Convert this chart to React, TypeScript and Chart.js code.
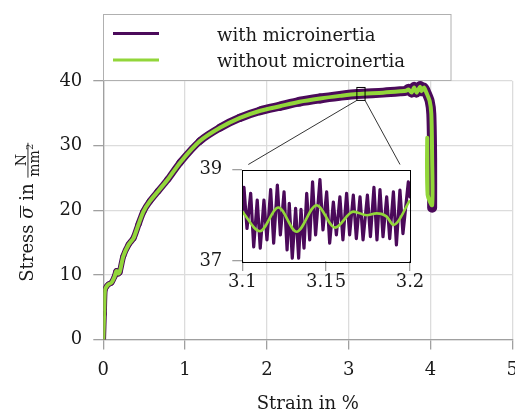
import React, { useEffect, useRef } from "react";
import { Chart, registerables } from "chart.js";

Chart.register(...registerables);

const FONT = "'DejaVu Serif', serif";
const PURPLE = "#4b0a5a";
const GREEN = "#92d63a";
const TEXT = "#1a1a1a";
const GRID = "#dcdcdc";
const AXIS = "#a0a0a0";

// ---- main chart data ----
const xTicks = [0, 1, 2, 3, 4, 5];
const yTicks = [0, 10, 20, 30, 40];

const withStrain = [0, 0.01, 0.02, 0.04, 0.06, 0.10, 0.14, 0.16, 0.18, 0.20, 0.245, 0.31, 0.37, 0.43, 0.49, 0.57, 0.67, 0.79, 0.94, 1.18, 1.43, 1.67, 1.92, 2.16, 2.40, 2.65, 2.89, 3.10, 3.42, 3.63, 3.70, 3.73, 3.77, 3.80, 3.83, 3.87, 3.89, 3.92, 3.95, 3.99, 4.01, 4.02, 4.02];
const withStress = [0, 4, 7.7, 8.2, 8.5, 8.8, 9.8, 10.6, 10.2, 10.4, 12.9, 14.7, 15.7, 17.8, 19.8, 21.4, 22.95, 24.8, 27.4, 30.7, 32.8, 34.3, 35.4, 36.1, 36.8, 37.3, 37.7, 38.0, 38.2, 38.4, 38.5, 38.8, 38.2, 39.1, 38.2, 39.2, 38.4, 39.0, 38.2, 36.9, 34.9, 28.0, 20.4];

const withoutStrain = [0, 0.01, 0.02, 0.04, 0.06, 0.10, 0.14, 0.16, 0.18, 0.20, 0.245, 0.31, 0.37, 0.43, 0.49, 0.57, 0.67, 0.79, 0.94, 1.18, 1.43, 1.67, 1.92, 2.16, 2.40, 2.65, 2.89, 3.10, 3.42, 3.63, 3.70, 3.73, 3.77, 3.80, 3.83, 3.87, 3.89, 3.92, 3.95, 3.99, 4.01, 4.02, 4.02, 3.965, 3.96, 3.965];
const withoutStress = [0, 4, 7.7, 8.2, 8.5, 8.8, 9.8, 10.6, 10.2, 10.4, 12.9, 14.7, 15.7, 17.8, 19.8, 21.4, 22.95, 24.8, 27.4, 30.7, 32.8, 34.3, 35.4, 36.1, 36.8, 37.3, 37.7, 38.0, 38.2, 38.4, 38.5, 38.7, 38.2, 39.0, 38.2, 39.1, 38.4, 39.0, 38.2, 36.9, 34.9, 28.0, 20.8, 22.4, 31.2, 22.6];

// ---- inset data ----
const insetXTicks = [3.1, 3.15, 3.2];
const insetYTicks = [37, 39];
const zoomStrain = [3.1, 3.2];
const zoomStress = [37, 39];

const insetWithStrain = [3.1, 3.101, 3.1028, 3.105, 3.1068, 3.1089, 3.1107, 3.1129, 3.1147, 3.1169, 3.1187, 3.1209, 3.1227, 3.1249, 3.1267, 3.128, 3.1298, 3.1318, 3.1336, 3.135, 3.1368, 3.1384, 3.1402, 3.1419, 3.1437, 3.1463, 3.1481, 3.1503, 3.1521, 3.1543, 3.1561, 3.1582, 3.16, 3.1622, 3.164, 3.1662, 3.168, 3.1702, 3.172, 3.1746, 3.1764, 3.1785, 3.1803, 3.1821, 3.1839, 3.1861, 3.1879, 3.1901, 3.1919, 3.194, 3.1958, 3.199, 3.2];
const insetWithStress = [38.1, 38.61, 37.71, 38.48, 37.31, 38.33, 37.28, 38.33, 37.46, 38.56, 37.39, 38.66, 37.57, 38.51, 37.24, 38.26, 37.06, 38.15, 37.06, 38.13, 37.28, 38.48, 37.46, 38.73, 37.57, 38.78, 37.68, 38.51, 37.39, 38.29, 37.57, 38.4, 37.46, 38.48, 37.57, 38.44, 37.49, 38.4, 37.46, 38.44, 37.53, 38.61, 37.46, 38.56, 37.53, 38.4, 37.49, 38.51, 37.35, 38.55, 37.6, 38.73, 38.4];

const insetWithoutStrain = [3.1, 3.1105, 3.1215, 3.1324, 3.1443, 3.1553, 3.1662, 3.1742, 3.1801, 3.1861, 3.1901, 3.2];
const insetWithoutStress = [38.08, 37.65, 38.17, 37.64, 38.22, 37.73, 38.08, 38.0, 38.04, 37.97, 37.79, 38.33];

const legendLabels = ["with microinertia", "without microinertia"];
const xTitle = "Strain in %";

// ---- layout ----
const W = 515;
const H = 412;
const INSET_LEFT = 180;
const INSET_TOP = 150;
const INSET_W = 260;
const INSET_H = 150;

const pts = (xs: number[], ys: number[]) => xs.map((x, i) => ({ x, y: ys[i] }));

function drawYTitle(ctx: CanvasRenderingContext2D, cx: number, cy: number) {
  ctx.save();
  ctx.translate(cx, cy);
  ctx.rotate(-Math.PI / 2);
  ctx.fillStyle = TEXT;
  ctx.textAlign = "left";
  ctx.textBaseline = "alphabetic";
  const big = `18px ${FONT}`;
  const small = `14px ${FONT}`;
  const tiny = `10px ${FONT}`;
  ctx.font = big;
  const p1 = "Stress ";
  const p2 = " in ";
  const w1 = ctx.measureText(p1).width;
  const w2 = ctx.measureText(p2).width;
  ctx.font = `italic 18px ${FONT}`;
  const ws = ctx.measureText("σ").width;
  ctx.font = small;
  const wN = ctx.measureText("N").width;
  const wmm = ctx.measureText("mm").width;
  ctx.font = tiny;
  const wsup = ctx.measureText("2").width;
  const wden = wmm + wsup;
  const wfrac = Math.max(wN, wden) + 2;
  const total = w1 + ws + w2 + wfrac;
  let x = -total / 2;
  ctx.font = big;
  ctx.fillText(p1, x, 0);
  x += w1;
  ctx.font = `italic 18px ${FONT}`;
  ctx.fillText("σ", x, 0);
  ctx.fillRect(x + 1, -13, ws, 1);
  x += ws;
  ctx.font = big;
  ctx.fillText(p2, x, 0);
  x += w2;
  ctx.font = small;
  ctx.fillText("N", x + (wfrac - wN) / 2, -7.5);
  ctx.fillRect(x, -5.5, wfrac, 0.9);
  ctx.fillText("mm", x + (wfrac - wden) / 2, 6);
  ctx.font = tiny;
  ctx.fillText("2", x + (wfrac - wden) / 2 + wmm, 0);
  ctx.restore();
}

const mainDecor = {
  id: "mainDecor",
  afterDraw(chart: any) {
    const ctx: CanvasRenderingContext2D = chart.ctx;
    const xs = chart.scales.x;
    const ys = chart.scales.y;
    const ca = chart.chartArea;
    ctx.save();
    // zoom box
    const bx0 = xs.getPixelForValue(zoomStrain[0]);
    const bx1 = xs.getPixelForValue(zoomStrain[1]);
    const by0 = ys.getPixelForValue(zoomStress[1]);
    const by1 = ys.getPixelForValue(zoomStress[0]);
    ctx.strokeStyle = "#000";
    ctx.lineWidth = 1;
    ctx.strokeRect(bx0, by0, bx1 - bx0, by1 - by0);
    // connectors to inset
    const insetL = 242.3;
    const insetR = 410;
    const insetT = 169.5;
    ctx.lineWidth = 0.8;
    ctx.beginPath();
    ctx.moveTo(bx0, by1);
    ctx.lineTo(insetL + 6, insetT - 5);
    ctx.moveTo(bx1, by1);
    ctx.lineTo(insetR - 10, insetT - 5);
    ctx.stroke();

    // legend
    ctx.fillStyle = "#fff";
    ctx.fillRect(103.5, 14.5, 347.5, 66);
    ctx.strokeStyle = "#b0b0b0";
    ctx.lineWidth = 1;
    ctx.strokeRect(103.5, 14.5, 347.5, 66);
    ctx.lineWidth = 3;
    ctx.lineCap = "butt";
    ctx.strokeStyle = PURPLE;
    ctx.beginPath();
    ctx.moveTo(113, 33.5);
    ctx.lineTo(159, 33.5);
    ctx.stroke();
    ctx.strokeStyle = GREEN;
    ctx.beginPath();
    ctx.moveTo(113, 60);
    ctx.lineTo(159, 60);
    ctx.stroke();
    ctx.fillStyle = TEXT;
    ctx.font = `18px ${FONT}`;
    ctx.textAlign = "left";
    ctx.textBaseline = "alphabetic";
    ctx.fillText(legendLabels[0], 217, 40.5);
    ctx.fillText(legendLabels[1], 217, 66.5);

    // x title
    ctx.textAlign = "center";
    ctx.fillText(xTitle, (ca.left + ca.right) / 2, 409);
    ctx.restore();

    drawYTitle(ctx, 33, (ca.top + ca.bottom) / 2 + 2);
  },
};

const insetDecor = {
  id: "insetDecor",
  afterDraw(chart: any) {
    const ctx: CanvasRenderingContext2D = chart.ctx;
    const ca = chart.chartArea;
    ctx.save();
    ctx.strokeStyle = "#000";
    ctx.lineWidth = 1;
    ctx.strokeRect(Math.round(ca.left) + 0.5, Math.round(ca.top) + 0.5, Math.round(ca.right - ca.left), Math.round(ca.bottom - ca.top));
    ctx.restore();
  },
};

export default function App() {
  const mainRef = useRef<HTMLCanvasElement>(null);
  const insetRef = useRef<HTMLCanvasElement>(null);

  useEffect(() => {
    const tickFont = { family: FONT, size: 18 };
    const main = new Chart(mainRef.current as HTMLCanvasElement, {
      type: "line",
      data: {
        datasets: [
          {
            label: legendLabels[0],
            data: pts(withStrain, withStress),
            borderColor: PURPLE,
            borderWidth: 9,
            pointRadius: 0,
            tension: 0.25,
            order: 2,
            borderCapStyle: "round",
            borderJoinStyle: "round",
            segment: {
              borderWidth: (c: any) => Math.min(10, 5.5 + c.p0.parsed.x * 1.8),
            },
          } as any,
          {
            label: legendLabels[1],
            data: pts(withoutStrain, withoutStress),
            borderColor: GREEN,
            borderWidth: 4,
            pointRadius: 0,
            tension: 0.25,
            order: 1,
            borderCapStyle: "round",
            borderJoinStyle: "round",
          } as any,
        ],
      },
      options: {
        responsive: false,
        animation: false,
        events: [],
        layout: { padding: { left: 0, right: 2.7, top: 81, bottom: 0 } },
        plugins: { legend: { display: false }, tooltip: { enabled: false } },
        scales: {
          x: {
            type: "linear",
            min: 0,
            max: 5,
            afterBuildTicks: (s: any) => {
              s.ticks = xTicks.map((v) => ({ value: v }));
            },
            afterFit: (s: any) => {
              s.height = 72.5;
              s.paddingLeft = 0;
              s.paddingRight = 0;
            },
            ticks: { font: tickFont, color: TEXT, padding: 10, maxRotation: 0 },
            grid: { color: GRID, lineWidth: 1.3, tickColor: AXIS, tickLength: 10 },
            border: { color: AXIS, width: 1.3 },
          },
          y: {
            type: "linear",
            min: 0,
            max: 40,
            afterBuildTicks: (s: any) => {
              s.ticks = yTicks.map((v) => ({ value: v }));
            },
            afterFit: (s: any) => {
              s.width = 103.3;
              s.paddingTop = 0;
              s.paddingBottom = 0;
            },
            ticks: { font: tickFont, color: TEXT, padding: 11 },
            grid: { color: GRID, lineWidth: 1.3, tickColor: AXIS, tickLength: 10 },
            border: { color: AXIS, width: 1.3 },
          },
        },
      } as any,
      plugins: [mainDecor],
    });

    const inset = new Chart(insetRef.current as HTMLCanvasElement, {
      type: "line",
      data: {
        datasets: [
          {
            label: legendLabels[0],
            data: pts(insetWithStrain, insetWithStress),
            borderColor: PURPLE,
            borderWidth: 3.2,
            pointRadius: 0,
            tension: 0,
            order: 2,
            borderCapStyle: "round",
            borderJoinStyle: "round",
          } as any,
          {
            label: legendLabels[1],
            data: pts(insetWithoutStrain, insetWithoutStress),
            borderColor: GREEN,
            borderWidth: 2.6,
            pointRadius: 0,
            order: 1,
            cubicInterpolationMode: "monotone",
          } as any,
        ],
      },
      options: {
        responsive: false,
        animation: false,
        events: [],
        layout: { padding: { left: 0, right: INSET_W - (410 - INSET_LEFT), top: 169.5 - INSET_TOP, bottom: 0 } },
        plugins: { legend: { display: false }, tooltip: { enabled: false } },
        scales: {
          x: {
            type: "linear",
            min: 3.1,
            max: 3.2,
            afterBuildTicks: (s: any) => {
              s.ticks = insetXTicks.map((v) => ({ value: v }));
            },
            afterFit: (s: any) => {
              s.height = INSET_H - (261 - INSET_TOP);
              s.paddingLeft = 0;
              s.paddingRight = 0;
            },
            ticks: {
              font: tickFont,
              color: TEXT,
              padding: 1,
              maxRotation: 0,
              callback: (v: any) => String(Number(Number(v).toFixed(2))),
            },
            grid: { drawOnChartArea: false, color: AXIS, lineWidth: 1.3, tickColor: AXIS, tickLength: 10 },
            border: { display: false },
          },
          y: {
            type: "linear",
            min: 37,
            max: 39,
            afterBuildTicks: (s: any) => {
              s.ticks = insetYTicks.map((v) => ({ value: v }));
            },
            afterFit: (s: any) => {
              s.width = 242.3 - INSET_LEFT;
              s.paddingTop = 0;
              s.paddingBottom = 0;
            },
            ticks: { font: tickFont, color: TEXT, padding: 10 },
            grid: { drawOnChartArea: false, color: AXIS, lineWidth: 1.3, tickColor: AXIS, tickLength: 10 },
            border: { display: false },
          },
        },
      } as any,
      plugins: [insetDecor],
    });

    return () => {
      main.destroy();
      inset.destroy();
    };
  }, []);

  return (
    <div style={{ position: "fixed", left: 0, top: 0, width: W, height: H, background: "#fff", overflow: "hidden" }}>
      <canvas ref={mainRef} width={W} height={H} style={{ position: "absolute", left: 0, top: 0, width: W, height: H }} />
      <canvas
        ref={insetRef}
        width={INSET_W}
        height={INSET_H}
        style={{ position: "absolute", left: INSET_LEFT, top: INSET_TOP, width: INSET_W, height: INSET_H }}
      />
    </div>
  );
}
